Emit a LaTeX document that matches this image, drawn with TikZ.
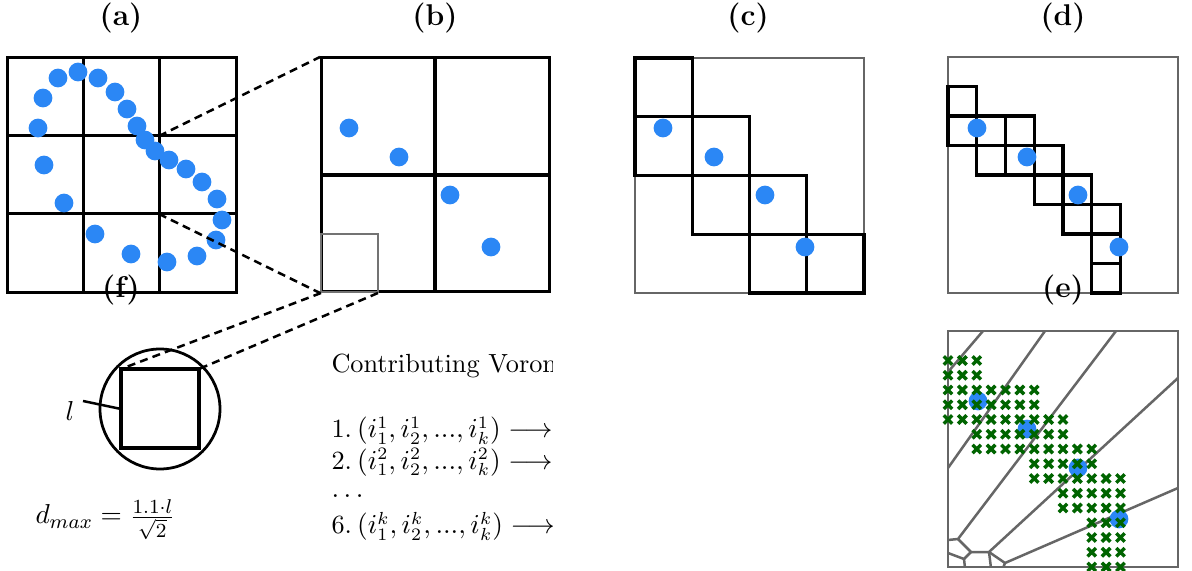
\documentclass[tikz,border=0pt]{standalone}
\usepackage{amsmath}
\definecolor{dotblue}{RGB}{43,135,245}
\definecolor{crossgreen}{RGB}{0,100,0}
\definecolor{vgray}{RGB}{102,102,102}
\begin{document}
\begin{tikzpicture}[x=0.4pt,y=-0.4pt,
  gridline/.style={line width=1.2pt,black},
  thickcell/.style={line width=1.25pt,black},
  thinborder/.style={line width=0.45pt,black!60},
  bdot/.style={fill=dotblue},
  dashline/.style={dash pattern=on 3.2pt off 2.1pt,line width=1pt},
  lab/.style={font=\large\bfseries,inner sep=0pt},
  vor/.style={line width=1pt,vgray,line cap=round,line join=round},
  crs/.style={line width=1.4pt,crossgreen},
  txt/.style={anchor=base west,inner sep=0pt,font=\fontsize{10.5}{12.6}\selectfont},
  mtxt/.style={anchor=base west,inner sep=0pt,font=\fontsize{10.5}{12.6}\selectfont}]
\useasboundingbox (0,0) rectangle (1192,571);

% ---------- labels
\node[lab] (la) at (121,18) {(a)};
\node[lab] (lb) at (435,18) {(b)};
\node[lab] (lc) at (748,18) {(c)};
\node[lab] (ld) at (1063,18) {(d)};

% ---------- panel (a)
\draw[gridline] (7,58) rectangle (236,293);
\draw[gridline] (83,58) -- (83,293) (159,58) -- (159,293);
\draw[gridline] (7,136) -- (236,136) (7,214) -- (236,214);
\foreach \p in {(58,78),(78,72),(98,78),(43,98),(115,92),(127,109),(38,128),(137,126),(145,140),(155,151),(169,160),(186,169),(202,182),(217,199),(222,220),(216,240),(197,256),(167,262),(131,254),(95,234),(44,165),(64,203)}
  \fill[bdot] \p circle[radius=3.75pt];
\coordinate (aTR) at (159,136);
\coordinate (aBR) at (159,214);

% ---------- panel (b)
\draw[gridline] (321,58) rectangle (549,292);
\draw[line width=1.35pt] (435,58) -- (435,292) (321,175) -- (549,175);
\draw[line width=1.1pt,black!55] (321,234) rectangle (378,292);
\foreach \p in {(349,128),(399,157),(450,195),(491,247)}
  \fill[bdot] \p circle[radius=3.75pt];
\coordinate (bTL) at (320,57);
\coordinate (bBL) at (320,293);
\coordinate (gBL) at (321,293);
\coordinate (gBR) at (378,293);
\draw[dashline] (aTR) -- (bTL);
\draw[dashline] (aBR) -- (bBL);

% ---------- panel (c)
\draw[thinborder] (635,58) rectangle (864,293);
\foreach \c/\r in {0/0,0/1,1/1,1/2,2/2,2/3,3/3}{
  \draw[thickcell] ({635+57.25*\c},{58+58.75*\r}) rectangle ({635+57.25*(\c+1)},{58+58.75*(\r+1)});
}
\foreach \p in {(663,128),(714,157),(765,195),(805,247)}
  \fill[bdot] \p circle[radius=3.75pt];

% ---------- panel (d)
\draw[thinborder] (948,57) rectangle (1178,293);
\foreach \c/\r in {0/1,0/2,1/2,2/2,1/3,2/3,3/3,3/4,4/4,4/5,5/5,5/6,5/7}{
  \draw[thickcell] ({948+28.75*\c},{57+29.5*\r}) rectangle ({948+28.75*(\c+1)},{57+29.5*(\r+1)});
}
\foreach \p in {(977,128),(1027,157),(1078,195),(1119,247)}
  \fill[bdot] \p circle[radius=3.75pt];
\node[lab] (le) at (1063,290) {(e)};

% ---------- panel (e)
\begin{scope}
\clip (948,331) rectangle (1178,567);
\draw[vor] (983,331) -- (948,372);
\draw[vor] (1045,331) -- (948,468);
\draw[vor] (1116,331) -- (958,539) -- (948,540);
\draw[vor] (958,539) -- (971,552) -- (989,552) -- (991,568);
\draw[vor] (1178,378) -- (989,552);
\draw[vor] (1178,488) -- (1005,563) -- (1003,568);
\draw[vor] (989,552) -- (1005,563);
\draw[vor] (948,553) -- (964,559) -- (971,552);
\draw[vor] (964,559) -- (965,568);
\end{scope}
\draw[thinborder] (948,331) rectangle (1178,567);
\foreach \p in {(978,401),(1027,429),(1078,468),(1119,519)}
  \fill[bdot] \p circle[radius=3.75pt];
\foreach \j/\a/\b in {0/0/2,1/0/2,2/0/6,3/0/6,4/0/8,5/2/8,6/2/10,7/6/10,8/6/12,9/8/12,10/8/12,11/10/12,12/10/12,13/10/12,14/10/12}{
  \foreach \i in {\a,...,\b}{
    \draw[crs] ({948+14.375*\i-4.2},{331+14.75*(\j+2)-4.2}) -- ++(8.4,8.4)
               ({948+14.375*\i-4.2},{331+14.75*(\j+2)+4.2}) -- ++(8.4,-8.4);
  }
}

% ---------- panel (f)
\node[lab] (lf) at (121,290) {(f)};
\draw[line width=1.1pt] (160,409) circle[radius=24pt];
\draw[line width=1.3pt] (121,369) rectangle (199,448);
\coordinate (fTL) at (121,369);
\coordinate (fTR) at (199,369);
\draw[dashline] (gBL) -- (fTL);
\draw[dashline] (gBR) -- (fTR);
\node[inner sep=0pt,font=\fontsize{11}{13}\selectfont] (ll) at (70,411) {$l$};
\coordinate (lside) at (121,409);
\draw[line width=1pt] (83,401) -- (lside);
\node[txt,font=\fontsize{11}{13}\selectfont] (dmax) at (35,524) {$d_{max} = \frac{1.1\cdot l}{\sqrt{2}}$};

% ---------- text list (clipped)
\begin{scope}
\clip (320,330) rectangle (552,560);
\node[txt] (t0) at (331,373) {Contributing Voronoi cells};
\node[mtxt] (t1) at (331,438) {1.\hspace{0.2em}$(i_1^1, i_2^1, ..., i_k^1) \longrightarrow$};
\node[mtxt] (t2) at (331,469) {2.\hspace{0.2em}$(i_1^2, i_2^2, ..., i_k^2) \longrightarrow$};
\node[mtxt] (t3) at (331,497) {$\ldots$};
\node[mtxt] (t4) at (331,534) {6.\hspace{0.2em}$(i_1^k, i_2^k, ..., i_k^k) \longrightarrow$};
\end{scope}
\end{tikzpicture}
\end{document}
